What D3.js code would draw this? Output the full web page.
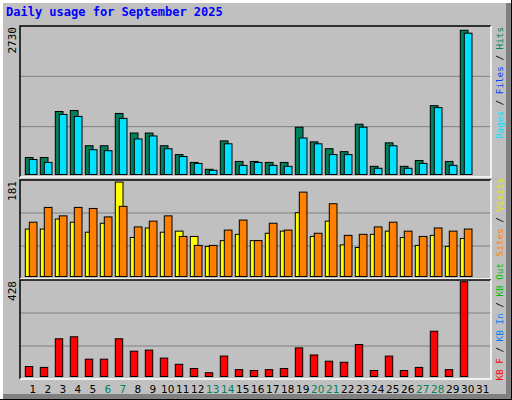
<!DOCTYPE html>
<html><head><meta charset="utf-8">
<script src="https://cdn.jsdelivr.net/npm/d3@7"></script>
<style>body{margin:0;background:#fff}</style>
</head><body>
<script>
// 數據
const days = d3.range(1, 32)
const weekend = [6, 7, 13, 14, 20, 21, 27, 28]
const hits = [314,314,1164,1182,531,531,1128,766,766,531,368,223,96,621,241,241,223,223,874,603,476,422,929,151,585,151,259,1272,241,2665,0]
const files = [277,223,1110,1073,458,440,1037,657,712,476,332,205,78,567,169,223,169,151,675,567,368,368,874,115,531,115,205,1236,169,2611,0]
const visits = [90,90,109,103,84,101,179,74,92,84,86,76,57,68,80,68,82,86,121,76,105,60,55,80,86,74,59,78,57,72,0]
const sites = [103,131,115,131,129,113,133,94,105,115,76,59,59,88,107,68,101,88,160,82,138,78,80,94,103,86,76,92,86,90,0]
const kbytes = [45,41,170,179,78,78,170,114,119,83,55,36,17,92,31,27,31,36,129,97,69,64,144,27,92,27,41,204,31,427,0]
const maxLabels = ['2730', '181', '428']

const W = 512, H = 400
const svg = d3.select('body').append('svg').attr('width', W).attr('height', H)
    .style('font-family', '"DejaVu Sans Mono", monospace')

// 外框
svg.append('rect').attr('width', W).attr('height', H).attr('fill', '#000')
svg.append('rect').attr('x', 0).attr('y', 0).attr('width', W - 1).attr('height', H - 1).attr('fill', '#fff')
svg.append('rect').attr('x', 3).attr('y', 3).attr('width', W - 4).attr('height', H - 4).attr('fill', '#808080')
svg.append('rect').attr('x', 3).attr('y', 3).attr('width', W - 9).attr('height', H - 9).attr('fill', '#c0c0c0')

svg.append('text').attr('x', 6).attr('y', 16).attr('fill', '#0000ff')
    .attr('font-weight', 'bold').attr('font-size', 12).text('Daily usage for September 2025')

const x = d3.scaleBand().domain(days).range([20.3, 485.3]).paddingInner(0)

// 面板
const panels = [
    { top: 26, bottom: 177, max: 2744, series: [[hits, '#00805c', 0], [files, '#00e0ff', 4]],
      label: [['Pages', '#00e0ff'], [' / ', '#000'], ['Files', '#0040ff'], [' / ', '#000'], ['Hits', '#00805c']], labelTop: 27 },
    { top: 180, bottom: 279, max: 183, series: [[visits, '#ffff00', 0], [sites, '#ff8000', 4]],
      label: [['Sites', '#ff8000'], [' / ', '#000'], ['Visits', '#e8e800']], labelTop: 178 },
    { top: 280, bottom: 379, max: 435, series: [[kbytes, '#ff0000', 0]],
      label: [['KB F', '#ff0000'], [' / ', '#000'], ['KB In', '#0080ff'], [' / ', '#000'], ['KB Out', '#00c000']], labelTop: 263 }
]

panels.forEach((p, i) => {
    const g = svg.append('g')
    g.append('rect').attr('x', 20).attr('y', p.top).attr('width', 471).attr('height', p.bottom - p.top)
        .attr('fill', '#c0c0c0')
    const y = d3.scaleLinear().domain([0, p.max]).range([p.bottom - 2.5, p.top])
    // 網格線
    ;[1, 2].forEach(k => {
        const gy = p.top + (p.bottom - p.top) * k / 3
        g.append('line').attr('x1', 20).attr('x2', 491).attr('y1', gy).attr('y2', gy)
            .attr('stroke', '#808080').attr('stroke-width', 1)
    })
    p.series.forEach(([vals, color, off]) => {
        const bw = p.series.length === 1 ? 7.4 : 7.7
        g.selectAll(null).data(days.filter((d, j) => vals[j] > 0)).enter().append('rect')
            .attr('x', d => x(d) + 5 + off).attr('width', bw)
            .attr('y', d => y(vals[d - 1])).attr('height', d => y(0) - y(vals[d - 1]))
            .attr('fill', color).attr('stroke', '#000').attr('stroke-width', 1)
    })
    // 邊框
    g.append('path').attr('d', `M20,${p.bottom}V${p.top}H491`).attr('fill', 'none').attr('stroke', '#000').attr('stroke-width', 1.5)
    g.append('path').attr('d', `M20,${p.bottom}H491V${p.top}`).attr('fill', 'none').attr('stroke', '#fff').attr('stroke-width', 1.5)
    // 最大值
    g.append('text').attr('transform', `translate(16,${p.top + 1}) rotate(-90)`).attr('text-anchor', 'end')
        .attr('font-size', 11).attr('fill', '#000').text(maxLabels[i])
    // 右側標簽
    const t = g.append('text').attr('transform', `translate(503,${p.labelTop}) rotate(-90)`).attr('text-anchor', 'end')
        .attr('font-size', 9.3)
    p.label.forEach(([s, c]) => t.append('tspan').attr('fill', c).attr('xml:space', 'preserve').text(s))
})

// 日期
svg.selectAll('.day').data(days).enter().append('text')
    .attr('x', d => x(d) + x.bandwidth() / 2 + 5).attr('y', 393).attr('text-anchor', 'middle')
    .attr('font-size', 10.5).attr('fill', d => weekend.includes(d) ? '#00805c' : '#000')
    .style('font-family', '"DejaVu Sans", sans-serif').text(d => d)
</script>
</body></html>
